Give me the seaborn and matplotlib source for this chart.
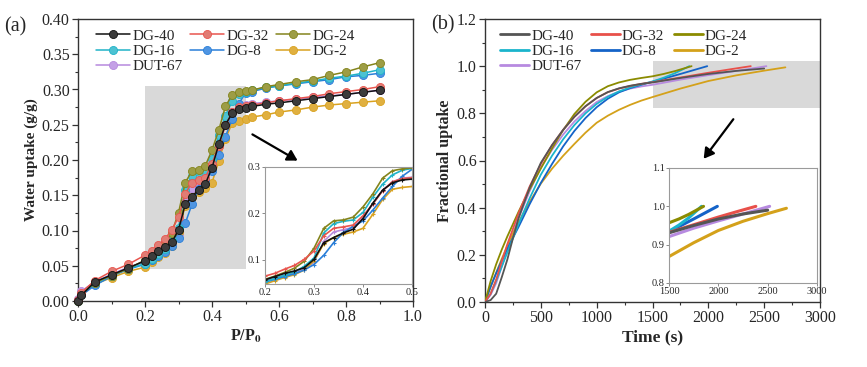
import numpy as np
import pandas as pd
import matplotlib
matplotlib.use('Agg')
import matplotlib.pyplot as plt
import seaborn as sns
from matplotlib.patches import Rectangle, FancyArrowPatch
from matplotlib.ticker import MultipleLocator, FormatStrFormatter

# ---------------- data: (a) water sorption isotherms ----------------
names = ['DG-40', 'DG-32', 'DG-24', 'DG-16', 'DG-8', 'DG-2', 'DUT-67']
p_rel = [0, 0.01, 0.05, 0.10, 0.15, 0.20, 0.22, 0.24, 0.26, 0.28, 0.30, 0.32, 0.34, 0.36, 0.38,
         0.40, 0.42, 0.44, 0.46, 0.48, 0.50, 0.52, 0.56, 0.60, 0.65, 0.70, 0.75, 0.80, 0.85, 0.90]
up_dg40 = [0.000, 0.008, 0.027, 0.037, 0.047, 0.057, 0.064, 0.071, 0.076, 0.083, 0.101, 0.137, 0.148, 0.158, 0.166,
           0.189, 0.222, 0.250, 0.266, 0.272, 0.274, 0.276, 0.279, 0.281, 0.284, 0.287, 0.290, 0.293, 0.296, 0.299]
up_dg32 = [0.002, 0.012, 0.029, 0.042, 0.052, 0.065, 0.071, 0.080, 0.088, 0.101, 0.119, 0.152, 0.168, 0.171, 0.175,
           0.195, 0.220, 0.249, 0.268, 0.275, 0.277, 0.278, 0.281, 0.284, 0.287, 0.290, 0.294, 0.297, 0.300, 0.304]
up_dg24 = [0.000, 0.010, 0.026, 0.036, 0.046, 0.058, 0.065, 0.073, 0.082, 0.097, 0.125, 0.168, 0.184, 0.186, 0.192,
           0.214, 0.242, 0.276, 0.292, 0.296, 0.298, 0.299, 0.304, 0.307, 0.311, 0.314, 0.320, 0.325, 0.332, 0.338]
up_dg16 = [0.000, 0.010, 0.025, 0.036, 0.046, 0.053, 0.060, 0.067, 0.074, 0.086, 0.104, 0.158, 0.178, 0.183, 0.186,
           0.202, 0.235, 0.263, 0.283, 0.293, 0.297, 0.299, 0.303, 0.305, 0.309, 0.312, 0.316, 0.319, 0.323, 0.328]
up_dg8 = [0.000, 0.008, 0.022, 0.035, 0.045, 0.052, 0.058, 0.064, 0.070, 0.078, 0.090, 0.110, 0.137, 0.159, 0.172,
          0.184, 0.207, 0.233, 0.258, 0.280, 0.295, 0.297, 0.302, 0.305, 0.308, 0.311, 0.314, 0.318, 0.320, 0.323]
up_dg2 = [0.000, 0.008, 0.024, 0.033, 0.042, 0.048, 0.055, 0.062, 0.068, 0.078, 0.098, 0.135, 0.148, 0.155, 0.160,
          0.168, 0.198, 0.230, 0.252, 0.256, 0.258, 0.261, 0.264, 0.268, 0.271, 0.275, 0.278, 0.280, 0.282, 0.284]
up_dut67 = [0.003, 0.014, 0.027, 0.038, 0.048, 0.055, 0.061, 0.066, 0.072, 0.080, 0.095, 0.140, 0.160, 0.165, 0.170,
            0.190, 0.220, 0.250, 0.268, 0.276, 0.278, 0.280, 0.282, 0.284, 0.286, 0.289, 0.291, 0.293, 0.296, 0.299]
uptakes = [up_dg40, up_dg32, up_dg24, up_dg16, up_dg8, up_dg2, up_dut67]

# ---------------- data: (b) fractional uptake kinetics ----------------
t_base = [0, 50, 100, 150, 200, 250, 300, 400, 500, 600, 700, 800, 900, 1000, 1100, 1200, 1300, 1400, 1500]
t_dg40 = t_base + [1750, 2000, 2250, 2500]
f_dg40 = [0, 0.008, 0.035, 0.105, 0.180, 0.270, 0.355, 0.485, 0.590, 0.665, 0.730, 0.785, 0.830, 0.865, 0.890,
          0.906, 0.917, 0.925, 0.931, 0.950, 0.967, 0.980, 0.990]
t_dg32 = t_base + [1750, 2000, 2200, 2380]
f_dg32 = [0, 0.035, 0.095, 0.172, 0.245, 0.310, 0.375, 0.490, 0.585, 0.665, 0.730, 0.785, 0.830, 0.865, 0.890,
          0.905, 0.916, 0.925, 0.932, 0.952, 0.972, 0.987, 1.000]
t_dg24 = t_base + [1600, 1700, 1850]
f_dg24 = [0, 0.088, 0.160, 0.222, 0.278, 0.330, 0.382, 0.478, 0.566, 0.651, 0.729, 0.797, 0.849, 0.889, 0.915,
          0.931, 0.942, 0.950, 0.957, 0.967, 0.979, 1.000]
t_dg16 = t_base + [1600, 1700, 1830]
f_dg16 = [0, 0.035, 0.090, 0.150, 0.210, 0.270, 0.330, 0.440, 0.540, 0.620, 0.690, 0.750, 0.800, 0.840, 0.870,
          0.893, 0.910, 0.923, 0.935, 0.951, 0.970, 1.000]
t_dg8 = t_base + [1600, 1750, 1990]
f_dg8 = [0, 0.065, 0.122, 0.175, 0.225, 0.272, 0.318, 0.415, 0.505, 0.585, 0.660, 0.725, 0.780, 0.826, 0.862,
         0.889, 0.907, 0.921, 0.934, 0.947, 0.967, 1.000]
t_dg2 = t_base + [1750, 2000, 2250, 2500, 2690]
f_dg2 = [0, 0.063, 0.124, 0.183, 0.237, 0.290, 0.338, 0.425, 0.502, 0.565, 0.620, 0.670, 0.718, 0.760, 0.790,
         0.815, 0.836, 0.854, 0.869, 0.905, 0.937, 0.961, 0.981, 0.995]
t_dut67 = t_base + [1750, 2000, 2250, 2520]
f_dut67 = [0, 0.030, 0.080, 0.150, 0.222, 0.290, 0.355, 0.470, 0.570, 0.645, 0.710, 0.765, 0.810, 0.848, 0.873,
           0.892, 0.905, 0.914, 0.921, 0.943, 0.962, 0.980, 1.000]
times = [t_dg40, t_dg32, t_dg24, t_dg16, t_dg8, t_dg2, t_dut67]
fracs = [f_dg40, f_dg32, f_dg24, f_dg16, f_dg8, f_dg2, f_dut67]

# ---------------- styles ----------------
col_a = ['#111111', '#e8554e', '#84841c', '#1fb3c8', '#2a7fd8', '#d9a21f', '#b689de']
face_a = ['#3c3c3c', '#e17c74', '#9d9d45', '#4cc2d2', '#4f95e2', '#e0b040', '#c4a0e6']
col_b = ['#555555', '#e8504a', '#8b8b00', '#1ab4cc', '#1463c8', '#d4a11a', '#b78ae0']

df_a = pd.concat([pd.DataFrame({'p': p_rel, 'w': u, 'name': n}) for n, u in zip(names, uptakes)])
df_b = pd.concat([pd.DataFrame({'t': t, 'f': f, 'name': n}) for n, t, f in zip(names, times, fracs)])

sns.set_theme(style='ticks')
plt.rcParams['font.family'] = ['Liberation Serif', 'DejaVu Serif']
plt.rcParams['mathtext.fontset'] = 'stix'
plt.rcParams['axes.edgecolor'] = '#333333'
plt.rcParams['axes.linewidth'] = 1.0

W, H = 867, 367
fig = plt.figure(figsize=(W / 100, H / 100), dpi=100)


def box(l, t, r, b):
    return [l / W, 1 - b / H, (r - l) / W, (b - t) / H]


ax1 = fig.add_axes(box(78, 19, 413, 301))
ax2 = fig.add_axes(box(485, 19, 820, 302))

# legend order so that ncol=3 fills row-wise like the reference
leg_order = ['DG-40', 'DG-16', 'DUT-67', 'DG-32', 'DG-8', 'DG-24', 'DG-2']

# ---------- panel (a) ----------
ax1.add_patch(Rectangle((0.2, 0.045), 0.3, 0.26, color='#d9d9d9', zorder=0, lw=0))
order = [6, 5, 4, 3, 2, 1, 0]
for i in order:
    sub = df_a[df_a['name'] == names[i]]
    sns.lineplot(data=sub, x='p', y='w', ax=ax1, color=col_a[i], marker='o', markersize=5.8,
                 markerfacecolor=face_a[i], markeredgecolor=col_a[i], markeredgewidth=0.6,
                 lw=1.1, label=names[i], zorder=3 + (7 - i) * 0.1, clip_on=False)
ax1.set_xlim(0, 1.0)
ax1.set_ylim(0, 0.40)
ax1.xaxis.set_major_locator(MultipleLocator(0.2))
ax1.xaxis.set_minor_locator(MultipleLocator(0.1))
ax1.yaxis.set_major_locator(MultipleLocator(0.05))
ax1.yaxis.set_minor_locator(MultipleLocator(0.025))
ax1.xaxis.set_major_formatter(FormatStrFormatter('%.1f'))
ax1.yaxis.set_major_formatter(FormatStrFormatter('%.2f'))
ax1.set_xlabel(r'P/P$_{\mathbf{0}}$', fontsize=11.5, fontweight='bold', labelpad=2)
ax1.set_ylabel('Water uptake (g/g)', fontsize=11, fontweight='bold', labelpad=3)
handles, labels = ax1.get_legend_handles_labels()
hmap = dict(zip(labels, handles))
ax1.legend([hmap[n] for n in leg_order], leg_order, ncol=3, loc='upper left', frameon=False, fontsize=11,
           handlelength=2.2, columnspacing=0.45, handletextpad=0.2, labelspacing=0.1,
           bbox_to_anchor=(0.025, 1.0), borderaxespad=0.25)

# ---------- panel (b) ----------
ax2.add_patch(Rectangle((1500, 0.823), 1500, 0.2, color='#d9d9d9', zorder=0, lw=0))
for i in order:
    sub = df_b[df_b['name'] == names[i]]
    sns.lineplot(data=sub, x='t', y='f', ax=ax2, color=col_b[i], lw=1.3, label=names[i], zorder=3)
ax2.set_xlim(0, 3000)
ax2.set_ylim(0, 1.2)
ax2.xaxis.set_major_locator(MultipleLocator(500))
ax2.xaxis.set_minor_locator(MultipleLocator(250))
ax2.yaxis.set_major_locator(MultipleLocator(0.2))
ax2.yaxis.set_minor_locator(MultipleLocator(0.1))
ax2.yaxis.set_major_formatter(FormatStrFormatter('%.1f'))
ax2.set_xlabel('Time (s)', fontsize=12.5, fontweight='bold', labelpad=2)
ax2.set_ylabel('Fractional uptake', fontsize=11.5, fontweight='bold', labelpad=3)
handles, labels = ax2.get_legend_handles_labels()
hmap = dict(zip(labels, handles))
leg2 = ax2.legend([hmap[n] for n in leg_order], leg_order, ncol=3, loc='upper left', frameon=False, fontsize=11,
                  handlelength=1.9, columnspacing=0.6, handletextpad=0.15, labelspacing=0.1,
                  bbox_to_anchor=(0.015, 1.0), borderaxespad=0.25)
for h in leg2.legend_handles:
    h.set_linewidth(2.0)

for ax in (ax1, ax2):
    ax.tick_params(axis='both', which='major', labelsize=11.5, length=4, width=0.9, color='#333333', pad=2)
    ax.tick_params(axis='both', which='minor', length=2, width=0.8, color='#333333')
    for s in ax.spines.values():
        s.set_visible(True)

# ---------- insets ----------
ins1 = fig.add_axes(box(265, 167, 412, 284))
for i in order:
    sub = df_a[(df_a['name'] == names[i]) & (df_a['p'] >= 0.2) & (df_a['p'] <= 0.5)]
    sns.lineplot(data=sub, x='p', y='w', ax=ins1, color=col_a[i], lw=1.2, marker='+', markersize=3,
                 markeredgecolor=col_a[i], markeredgewidth=0.8, legend=False)
ins1.set_xlim(0.2, 0.5)
ins1.set_ylim(0.048, 0.3)
ins1.xaxis.set_major_locator(MultipleLocator(0.1))
ins1.yaxis.set_major_locator(MultipleLocator(0.1))
ins1.xaxis.set_major_formatter(FormatStrFormatter('%.1f'))
ins1.yaxis.set_major_formatter(FormatStrFormatter('%.1f'))

ins2 = fig.add_axes(box(669, 168, 817, 283))
for i in order:
    sub = df_b[df_b['name'] == names[i]]
    sns.lineplot(data=sub, x='t', y='f', ax=ins2, color=col_b[i], lw=2.2, legend=False)
ins2.set_xlim(1500, 3000)
ins2.set_ylim(0.8, 1.1)
ins2.xaxis.set_major_locator(MultipleLocator(500))
ins2.yaxis.set_major_locator(MultipleLocator(0.1))
ins2.yaxis.set_major_formatter(FormatStrFormatter('%.1f'))

for ins in (ins1, ins2):
    ins.set_xlabel('')
    ins.set_ylabel('')
    ins.tick_params(axis='both', labelsize=7.5, length=2, width=0.6, pad=1, color='#777777')
    for s in ins.spines.values():
        s.set_visible(True)
        s.set_color('#9a9a9a')
        s.set_linewidth(0.8)
    ins.set_facecolor('white')

# ---------- arrows and panel labels ----------
for (x0, y0), (x1, y1) in [((250, 133), (300, 162)), ((735, 117), (702, 161))]:
    fig.add_artist(FancyArrowPatch((x0 / W, 1 - y0 / H), (x1 / W, 1 - y1 / H),
                                   transform=fig.transFigure, arrowstyle='-|>,head_length=6,head_width=3.5',
                                   color='black', lw=1.6))
fig.text(4 / W, 1 - 31 / H, '(a)', fontsize=14.5)
fig.text(431 / W, 1 - 29 / H, '(b)', fontsize=14.5)

fig.savefig('out.png', dpi=100)
